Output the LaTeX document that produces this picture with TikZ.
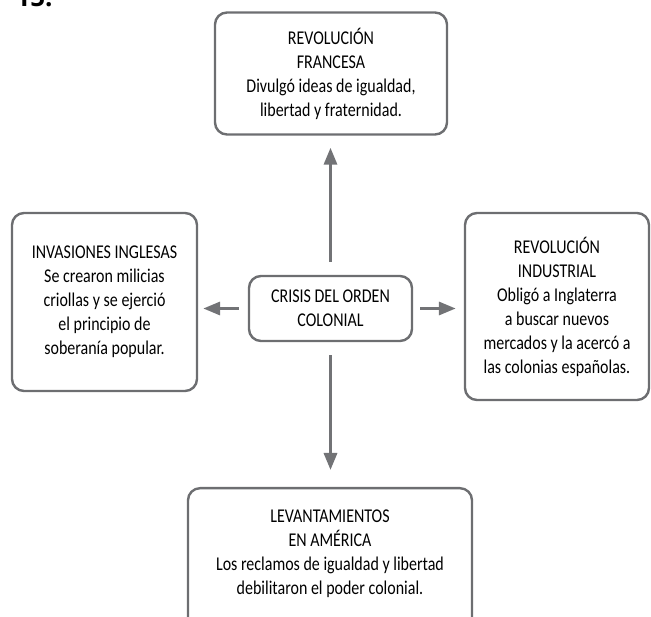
\documentclass[tikz,border=0pt]{standalone}
\usepackage{fontspec}
\setmainfont{Carlito}[FakeStretch=0.82]
\newfontfamily\numfont{Open Sans}[BoldFont={* Bold}]
\usetikzlibrary{arrows.meta}
\definecolor{boxgray}{HTML}{6D6E71}
\definecolor{arrgray}{HTML}{727376}
\tikzset{
  x=1pt, y=-1pt,
  box/.style={draw=boxgray, line width=2.4pt, rounded corners=12pt, align=center,
    font=\fontsize{19.5}{24}\selectfont, text=black, inner sep=0pt},
  arr/.style={draw=arrgray, line width=3.2pt,
    -{Triangle[length=17pt,width=13pt]}},
}
\begin{document}
\begin{tikzpicture}
\useasboundingbox (0,0) rectangle (651,617);
\clip (0,0) rectangle (651,617);
\node[anchor=base west, font=\numfont\bfseries\fontsize{26}{26}\selectfont] (num) at (12,7) {15.};
\node[box, minimum width=232pt, minimum height=122pt] (t) at (331,73.5)
  {REVOLUCIÓN\\FRANCESA\\Divulgó ideas de igualdad,\\libertad y fraternidad.};
\node[box, minimum width=163pt, minimum height=65pt] (c) at (330.5,308.5)
  {CRISIS DEL ORDEN\\COLONIAL};
\node[box, minimum width=185pt, minimum height=178pt] (l) at (104.5,302)
  {INVASIONES INGLESAS\\Se crearon milicias\\criollas y se ejerció\\el principio de\\soberanía popular.};
\node[box, minimum width=184pt, minimum height=187pt] (r) at (557,306.5)
  {REVOLUCIÓN\\INDUSTRIAL\\Obligó a Inglaterra\\a buscar nuevos\\mercados y la acercó a\\las colonias españolas.};
\node[box, minimum width=284pt, minimum height=150pt, anchor=north] (b) at (330,487) {};
\node[align=center, font=\fontsize{19.5}{24}\selectfont, anchor=north, inner sep=0pt] (bt) at (330,510)
  {LEVANTAMIENTOS\\EN AMÉRICA\\Los reclamos de igualdad y libertad\\debilitaron el poder colonial.};
\draw[arr, shorten <=13pt, shorten >=12pt] (c.north) -- (c.north |- t.south);
\draw[arr, shorten <=13pt, shorten >=17pt] (c.south) -- (c.south |- b.north);
\draw[arr, shorten <=9pt, shorten >=5pt] (c.west) -- (c.west -| l.east);
\draw[arr, shorten <=7pt, shorten >=8pt] (c.east) -- (c.east -| r.west);
\end{tikzpicture}
\end{document}
